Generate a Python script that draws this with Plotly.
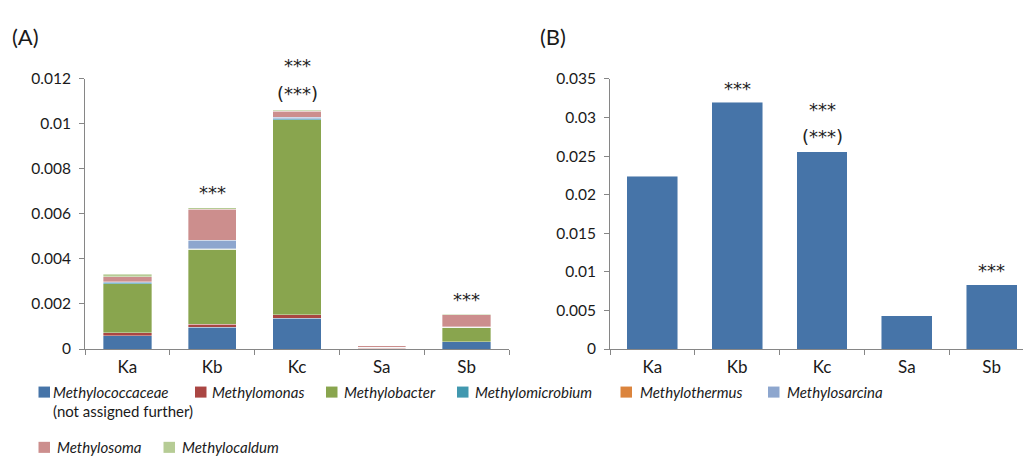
import plotly.graph_objects as go

# ---------------- data ----------------
categories = ["Ka", "Kb", "Kc", "Sa", "Sb"]

taxa = ["Methylococcaceae", "Methylomonas", "Methylobacter", "Methylomicrobium",
        "Methylothermus", "Methylosarcina", "Methylosoma", "Methylocaldum"]

methylococcaceae = [0.00060, 0.00096, 0.00137, 0.00002, 0.00032]
methylomonas     = [0.00013, 0.00014, 0.00016, 0.000005, 0.00001]
methylobacter    = [0.00217, 0.00333, 0.00866, 0.00004, 0.00064]
methylomicrobium = [0.00004, 0.00001, 0.00004, 0.000005, 0.0]
methylothermus   = [0.0, 0.00002, 0.0, 0.0, 0.0]
methylosarcina   = [0.00004, 0.00037, 0.00006, 0.0, 0.00001]
methylosoma      = [0.00022, 0.00139, 0.00027, 0.00008, 0.00054]
methylocaldum    = [0.00012, 0.00006, 0.00004, 0.000005, 0.00003]

panel_b_values = [0.02238, 0.0320, 0.02558, 0.00432, 0.00835]

sig_a_top   = ["", "***", "***", "", "***"]
sig_a_paren = ["", "", "(***)", "", ""]
sig_b_top   = ["", "***", "***", "", "***"]
sig_b_paren = ["", "", "(***)", "", ""]

yticks_a = [0, 0.002, 0.004, 0.006, 0.008, 0.01, 0.012]
yticklabels_a = ["0", "0.002", "0.004", "0.006", "0.008", "0.01", "0.012"]
yticks_b = [0, 0.005, 0.01, 0.015, 0.02, 0.025, 0.03, 0.035]
yticklabels_b = ["0", "0.005", "0.01", "0.015", "0.02", "0.025", "0.03", "0.035"]

# ---------------- styles ----------------
series_a = [methylococcaceae, methylomonas, methylobacter, methylomicrobium,
            methylothermus, methylosarcina, methylosoma, methylocaldum]
colors = ["#4674A8", "#AA4643", "#89A54E", "#4198AF",
          "#DB843D", "#8DA6CE", "#CC8E8D", "#B6CC95"]
FONT = "Lato"
STARFONT = "DejaVu Sans"
TXT = "#1a1a1a"
AXC = "#868686"
W, H = 1023, 464

fig = go.Figure()

for name, vals, col in zip(taxa, series_a, colors):
    fig.add_trace(go.Bar(
        x=categories, y=vals, name=name, xaxis="x", yaxis="y",
        marker=dict(color=col, line=dict(width=0.6, color="rgba(255,255,255,0.6)")),
        width=0.57, showlegend=False))

fig.add_trace(go.Bar(
    x=categories, y=panel_b_values, xaxis="x2", yaxis="y2",
    marker=dict(color=colors[0], line=dict(width=0.8, color="rgba(255,255,255,0.6)")),
    width=0.6, showlegend=False))

totals_a = [sum(s[i] for s in series_a) for i in range(len(categories))]

annotations = []
def star_note(xref, yref, c, yv, text, shift):
    annotations.append(dict(x=c, y=yv, xref=xref, yref=yref, text=text,
                            showarrow=False, yanchor="middle", yshift=shift,
                            font=dict(family=STARFONT, size=18, color="#222222")))

def stars(xref, yref, totals, top, paren, s_single, s_paren, s_double):
    for i, c in enumerate(categories):
        if paren[i]:
            star_note(xref, yref, c, totals[i], paren[i], s_paren)
            if top[i]:
                star_note(xref, yref, c, totals[i], top[i], s_double)
        elif top[i]:
            star_note(xref, yref, c, totals[i], top[i], s_single)

stars("x", "y", totals_a, sig_a_top, sig_a_paren, 15, 17, 45)
stars("x2", "y2", panel_b_values, sig_b_top, sig_b_paren, 14, 15, 42)

# panel labels
annotations.append(dict(x=10 / W, y=1 - 28 / H, xref="paper", yref="paper", text="(A)",
                        showarrow=False, xanchor="left", yanchor="middle",
                        font=dict(family=FONT, size=22, color=TXT)))
annotations.append(dict(x=538 / W, y=1 - 28 / H, xref="paper", yref="paper", text="(B)",
                        showarrow=False, xanchor="left", yanchor="middle",
                        font=dict(family=FONT, size=22, color=TXT)))

# manual legend (layout positions in px)
legend_rows = [0, 0, 0, 0, 0, 0, 1, 1]
legend_sq_x = [38.5, 195, 326, 457, 620.5, 768, 38.5, 163.5]
legend_tx_x = [51, 210, 342, 473, 638, 785, 55, 180]
row_y = [397.5, 455]
SQ = 11.5
shapes = []
for i, name in enumerate(taxa):
    yc = row_y[legend_rows[i]]
    x0 = legend_sq_x[i]
    shapes.append(dict(type="rect", xref="paper", yref="paper",
                       x0=x0 / W, x1=(x0 + SQ) / W,
                       y0=1 - (yc + SQ / 2) / H, y1=1 - (yc - SQ / 2) / H,
                       fillcolor=colors[i], line=dict(width=0)))
    annotations.append(dict(x=legend_tx_x[i] / W, y=1 - yc / H, xref="paper", yref="paper",
                            text="<i>%s</i>" % name, showarrow=False,
                            xanchor="left", yanchor="middle",
                            font=dict(family=FONT, size=15, color=TXT)))
annotations.append(dict(x=51 / W, y=1 - 417 / H, xref="paper", yref="paper",
                        text="(not assigned further)", showarrow=False,
                        xanchor="left", yanchor="middle",
                        font=dict(family=FONT, size=15, color=TXT)))

ydom = [1 - 352.7 / H, 1 - 71.7 / H]
common_x = dict(type="category", showline=True, linecolor=AXC, linewidth=1,
                ticks="outside", tickson="boundaries", ticklen=5, tickcolor=AXC,
                showgrid=False, zeroline=False, tickfont=dict(family=FONT, size=17, color=TXT),
                ticklabelstandoff=3)
common_y = dict(showline=True, linecolor=AXC, linewidth=1, ticks="outside", ticklen=5,
                tickcolor=AXC, showgrid=False, zeroline=False,
                tickfont=dict(family=FONT, size=15.5, color=TXT), ticklabelstandoff=5)

fig.update_layout(
    width=W, height=H, margin=dict(l=0, r=0, t=0, b=0),
    paper_bgcolor="white", plot_bgcolor="white",
    barmode="stack",
    xaxis=dict(domain=[85 / W, 509 / W], range=[-0.5, 4.5], anchor="y", **common_x),
    yaxis=dict(domain=ydom, range=[0, 0.012], tickvals=yticks_a, ticktext=yticklabels_a,
               anchor="x", **common_y),
    xaxis2=dict(domain=[610 / W, 1.0], range=[-0.5, 4.37], anchor="y2", **common_x),
    yaxis2=dict(domain=ydom, range=[0, 0.035], tickvals=yticks_b, ticktext=yticklabels_b,
                anchor="x2", **common_y),
    annotations=annotations, shapes=shapes,
)

fig.write_html("out.html")
